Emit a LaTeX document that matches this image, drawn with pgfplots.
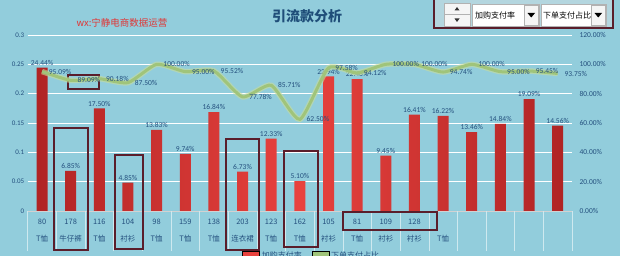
\documentclass[border=0pt]{standalone}
\usepackage{pgfplots}
\pgfplotsset{compat=1.18}
\usepackage{pgfplotstable}
\usepackage{fontspec}
\setmainfont{Carlito}
\newfontfamily\cjk{Noto Sans CJK SC}
\definecolor{bg}{HTML}{92CDDC}
\definecolor{txt}{HTML}{24507E}
\definecolor{barred}{HTML}{E8423E}
\definecolor{bardark}{HTML}{B02424}
\definecolor{lgreen}{HTML}{A0C47A}
\definecolor{lglow}{HTML}{C8DC9A}
\definecolor{boxc}{HTML}{5A1E2B}
\definecolor{titlec}{HTML}{1F4E79}
\definecolor{wxred}{HTML}{E03535}
\definecolor{ctrlbg}{HTML}{B4D6DF}
\pgfplotsset{/pgf/number format/assume math mode=true}

\pgfplotstableread{
x bar line
0 24.44 95.09
1 6.85 89.09
2 17.50 90.18
3 4.85 87.50
4 13.83 100.00
5 9.74 95.00
6 16.84 95.52
7 6.73 77.78
8 12.33 85.71
9 5.10 62.50
10 22.94 97.58
11 22.46 94.12
12 9.45 100.00
13 16.41 100.00
14 16.22 94.74
15 13.46 100.00
16 14.84 95.00
17 19.09 95.45
18 14.56 93.75
}\datatable

\begin{document}
\begin{tikzpicture}
\useasboundingbox (0pt,0pt) rectangle (620pt,256pt);
\clip (0pt,0pt) rectangle (620pt,256pt);
\fill[bg] (0pt,0pt) rectangle (620pt,256pt);

\begin{axis}[
  at={(27.7pt,45pt)}, anchor=south west, scale only axis,
  width=544.3pt, height=176pt,
  xmin=-0.5, xmax=18.5, ymin=0, ymax=0.3,
  clip=false,
  axis line style={draw=none},
  major tick length=0pt,
  ymajorgrids, grid style={white, line width=0.7pt},
  ytick={0,0.05,0.1,0.15,0.2,0.25,0.3},
  yticklabels={0,0.05,0.1,0.15,0.2,0.25,0.3},
  yticklabel style={font=\fontsize{7}{8}\selectfont, text=txt},
  xtick={0,...,18},
  xticklabels={{80\\[8pt]T恤},{178\\[8pt]牛仔裤},{116\\[8pt]T恤},{104\\[8pt]衬衫},{98\\[8pt]T恤},{159\\[8pt]T恤},{138\\[8pt]T恤},{203\\[8pt]连衣裙},{123\\[8pt]T恤},{162\\[8pt]T恤},{105\\[8pt]衬衫},{81\\[8pt]T恤},{109\\[8pt]衬衫},{128\\[8pt]衬衫},{\phantom{0}\\[8pt]T恤},{},{},{},{}},
  xticklabel style={font=\cjk\fontsize{7.5}{9}\selectfont, text=txt, align=center, anchor=north, yshift=-4.5pt},
]
\addplot[ybar, bar width=11pt, draw=none, left color=bardark, right color=bardark, middle color=barred,
  point meta=explicit,
  nodes near coords={\pgfmathprintnumber[fixed,fixed zerofill,precision=2]{\pgfplotspointmeta}\%},
  every node near coord/.append style={font=\fontsize{7.5}{9}\selectfont, text=txt, inner sep=2pt}]
  table[x=x, y expr=\thisrow{bar}/100, meta=bar] {\datatable};
\draw[white!65!gray, line width=0.8pt] (axis cs:-0.5,0) -- (axis cs:18.5,0);
\pgfplotsinvokeforeach{-0.5,0.5,...,18.5}{
  \draw[white!55!bg, line width=0.5pt] (axis cs:#1,0) -- (axis cs:#1,-0.068);
}
% annotation boxes
\draw[boxc, line width=1.6pt] (axis cs:0.907,0.2318) rectangle (axis cs:1.988,0.208);
\draw[boxc, line width=1.6pt] (axis cs:0.42,0.1415) rectangle (axis cs:1.6,-0.066);
\draw[boxc, line width=1.6pt] (axis cs:2.546,0.0955) rectangle (axis cs:3.523,-0.0648);
\draw[boxc, line width=1.6pt] (axis cs:6.418,0.1227) rectangle (axis cs:7.569,-0.066);
\draw[boxc, line width=1.6pt] (axis cs:8.44,0.1023) rectangle (axis cs:9.627,-0.0614);
\draw[boxc, line width=1.6pt] (axis cs:10.5,-0.0017) rectangle (axis cs:13.78,-0.0324);
\end{axis}

\begin{axis}[
  at={(27.7pt,45pt)}, anchor=south west, scale only axis,
  width=544.3pt, height=176pt,
  xmin=-0.5, xmax=18.5, ymin=0, ymax=1.2,
  clip=false,
  axis x line=none, axis y line*=right,
  axis line style={draw=none},
  major tick length=0pt,
  ytick={0,0.2,0.4,0.6,0.8,1.0,1.2},
  yticklabels={0.00\%,20.00\%,40.00\%,60.00\%,80.00\%,100.00\%,120.00\%},
  yticklabel style={font=\fontsize{7.5}{9}\selectfont, text=txt, xshift=4pt},
  legend style={at={(0.522,-0.255)}, anchor=center, legend columns=2, draw=none, fill=none,
    font=\cjk\fontsize{8}{9}\selectfont, text=txt,
    /tikz/every even column/.append style={column sep=8pt}},
  legend image code/.code={\fill[#1] (0pt,-5pt) rectangle (17pt,5pt);},
]
\addlegendimage{fill=barred}
\addlegendentry{加购支付率}
\addlegendimage{fill=lgreen}
\addlegendentry{下单支付占比}
\addplot[lglow, line width=5.5pt, opacity=0.6, smooth, tension=0.35, forget plot] table[x=x, y expr=\thisrow{line}/100] {\datatable};
\addplot[lgreen, line width=3pt, smooth, tension=0.35, forget plot,
  point meta=explicit,
  nodes near coords={\pgfmathprintnumber[fixed,fixed zerofill,precision=2]{\pgfplotspointmeta}\%},
  every node near coord/.append style={font=\fontsize{7.5}{9}\selectfont, text=txt, anchor=west, xshift=2pt}]
  table[x=x, y expr=\thisrow{line}/100, meta=line] {\datatable};
\end{axis}

\begin{scope}[x=1pt,y=1pt]
% title and texts
\node[font=\cjk\bfseries\fontsize{14}{16}\selectfont, text=titlec] at (307,239.5) {引流款分析};
\node[font=\cjk\fontsize{9.5}{11}\selectfont, text=wxred] at (122,233) {wx:宁静电商数据运营};

% control panel
\draw[boxc, line width=1.5pt, fill=ctrlbg] (434,228) rectangle (613,259);
\draw[gray!60, fill=gray!8] (444,230) rectangle (470,253);
\draw[gray!60] (444,241.5) -- (470,241.5);
\fill[black!80] (454.5,245.5) -- (459.5,245.5) -- (457,249) -- cycle;
\fill[black!80] (454.5,237.5) -- (459.5,237.5) -- (457,234) -- cycle;
\draw[gray!60, fill=white] (472,230) rectangle (539,252);
\node[font=\cjk\fontsize{8}{9}\selectfont, anchor=west, inner sep=0pt] at (475,241) {加购支付率};
\draw[gray!60, fill=gray!8] (524,231) rectangle (538.5,251);
\fill[black] (527.5,243) -- (535,243) -- (531.25,238.5) -- cycle;
\draw[gray!60, fill=white] (541,230) rectangle (606,252);
\node[font=\cjk\fontsize{8}{9}\selectfont, anchor=west, inner sep=0pt] at (543,241) {下单支付占比};
\draw[gray!60, fill=gray!8] (591,231) rectangle (605.5,251);
\fill[black] (594.5,243) -- (602,243) -- (598.25,238.5) -- cycle;
\end{scope}
\end{tikzpicture}
\end{document}
